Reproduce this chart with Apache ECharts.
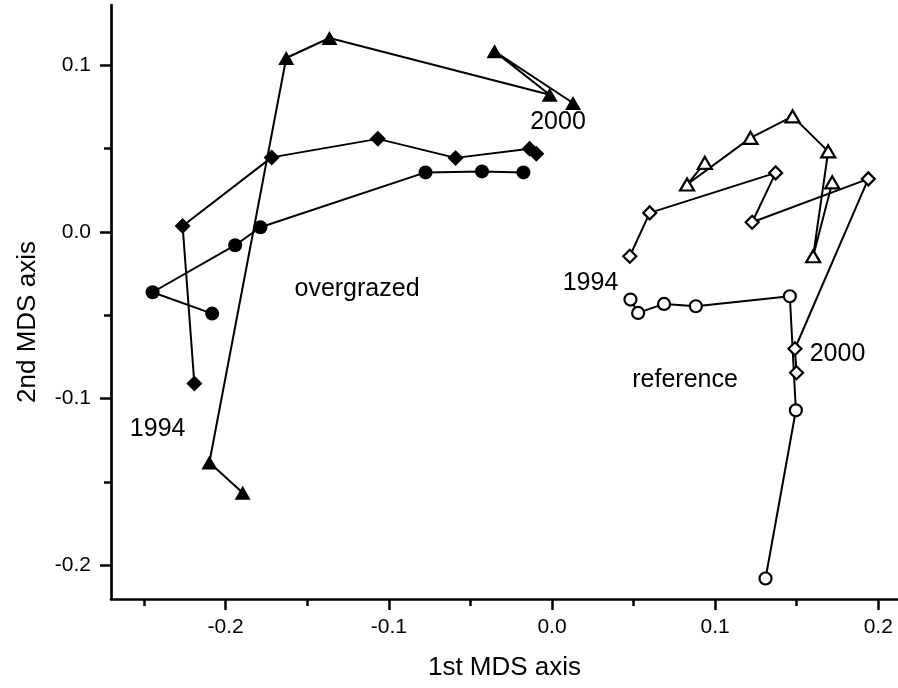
<!DOCTYPE html>
<html>
<head>
<meta charset="utf-8">
<script src="https://cdn.jsdelivr.net/npm/echarts@6/dist/echarts.min.js"></script>
<style>
  html, body { margin: 0; padding: 0; background: #fff; }
  #chart { width: 898px; height: 688px; }
</style>
</head>
<body>
<div id="chart"></div>
<script>
// 1st / 2nd MDS axis scores, 1994 -> 2000
const overgrazedCircles  = [[-0.2083,-0.0490],[-0.2448,-0.0362],[-0.1942,-0.0080],[-0.1787,0.0028],[-0.0775,0.0357],[-0.0429,0.0363],[-0.0175,0.0357]];
const overgrazedDiamonds = [[-0.2192,-0.0909],[-0.2264,0.0035],[-0.1718,0.0447],[-0.1067,0.0558],[-0.0591,0.0444],[-0.0137,0.0499],[-0.0096,0.0469]];
const overgrazedTriangles = [[-0.1896,-0.1565],[-0.2100,-0.1383],[-0.1629,0.1043],[-0.1364,0.1163],[-0.0014,0.0823],[-0.0352,0.1083],[0.0129,0.0773]];
const referenceCircles   = [[0.0481,-0.0406],[0.0528,-0.0486],[0.0687,-0.0432],[0.0882,-0.0446],[0.1458,-0.0386],[0.1495,-0.1070],[0.1309,-0.2079]];
const referenceDiamonds  = [[0.0477,-0.0146],[0.0599,0.0114],[0.1371,0.0354],[0.1227,0.0058],[0.1939,0.0318],[0.1489,-0.0701],[0.1499,-0.0845]];
const referenceTriangles = [[0.0937,0.0414],[0.0828,0.0284],[0.1217,0.0564],[0.1475,0.0693],[0.1693,0.0483],[0.1601,-0.0146],[0.1718,0.0297]];

// text notes placed in data coordinates
const notes = [
  ["overgrazed", -0.1195, -0.0346],
  ["reference", 0.0816, -0.0891],
  ["2000", 0.0037, 0.0658],
  ["1994", -0.2417, -0.1185],
  ["1994", 0.0236, -0.0306],
  ["2000", 0.1750, -0.0736]
];

const xMajor = [-0.2, -0.1, 0, 0.1, 0.2];
const xMinor = [-0.25, -0.15, -0.05, 0.05, 0.15];
const yMajor = [-0.2, -0.1, 0, 0.1];
const yMinor = [-0.15, -0.05, 0.05];

const FONT = "'Liberation Sans', Arial, sans-serif";

function track(data, symbol, size, filled) {
  return {
    type: "line",
    data: data,
    symbol: symbol,
    symbolSize: size,
    showSymbol: true,
    lineStyle: { color: "#000", width: 2 },
    itemStyle: filled
      ? { color: "#000", borderWidth: 0 }
      : { color: "#fff", borderColor: "#000", borderWidth: 2.2 },
    z: filled ? 3 : 4
  };
}

function axisBase(isX, ticks, len, main) {
  return {
    type: "value",
    min: isX ? -0.2703 : -0.2202,
    max: isX ? 0.2121 : 0.1361,
    position: isX ? "bottom" : "left",
    splitLine: { show: false },
    axisLine: { show: main, onZero: false, lineStyle: { color: "#000", width: 2.7 } },
    axisTick: { show: true, customValues: ticks, length: len, lineStyle: { color: "#000", width: 2.5 } },
    axisLabel: main ? {
      customValues: ticks,
      margin: isX ? 18 : 20,
      fontSize: 21,
      fontFamily: FONT,
      color: "#000",
      formatter: v => v.toFixed(1)
    } : { show: false }
  };
}

const xMain = axisBase(true, xMajor, 11, true);
xMain.name = "1st MDS axis";
xMain.nameLocation = "middle";
xMain.nameGap = 56;
xMain.nameTextStyle = { fontSize: 26, fontFamily: FONT, color: "#000" };

const yMain = axisBase(false, yMajor, 11, true);
yMain.name = "2nd MDS axis";
yMain.nameLocation = "middle";
yMain.nameGap = 70;
yMain.nameTextStyle = { fontSize: 26, fontFamily: FONT, color: "#000", padding: [0, 40, 0, 0] };

const chart = echarts.init(document.getElementById("chart"), null, { renderer: "canvas" });
chart.setOption({
  animation: false,
  backgroundColor: "#fff",
  grid: { left: 111, right: 0, top: 5, bottom: 89, containLabel: false },
  xAxis: [xMain, axisBase(true, xMinor, 7, false)],
  yAxis: [yMain, axisBase(false, yMinor, 7, false)],
  series: [
    track(overgrazedCircles, "circle", 14, true),
    track(overgrazedDiamonds, "diamond", [16, 16], true),
    track(overgrazedTriangles, "triangle", [16, 14], true),
    track(referenceCircles, "circle", 12, false),
    track(referenceDiamonds, "diamond", [13, 13], false),
    track(referenceTriangles, "triangle", [14, 12], false),
    {
      type: "scatter",
      data: notes.map(n => ({ name: n[0], value: [n[1], n[2]] })),
      symbolSize: 0,
      itemStyle: { color: "#000", opacity: 1 },
      label: {
        show: true,
        position: "inside",
        formatter: "{b}",
        fontSize: 25,
        fontFamily: FONT,
        color: "#000",
        opacity: 1
      },
      silent: true,
      z: 5
    }
  ]
});
</script>
</body>
</html>
